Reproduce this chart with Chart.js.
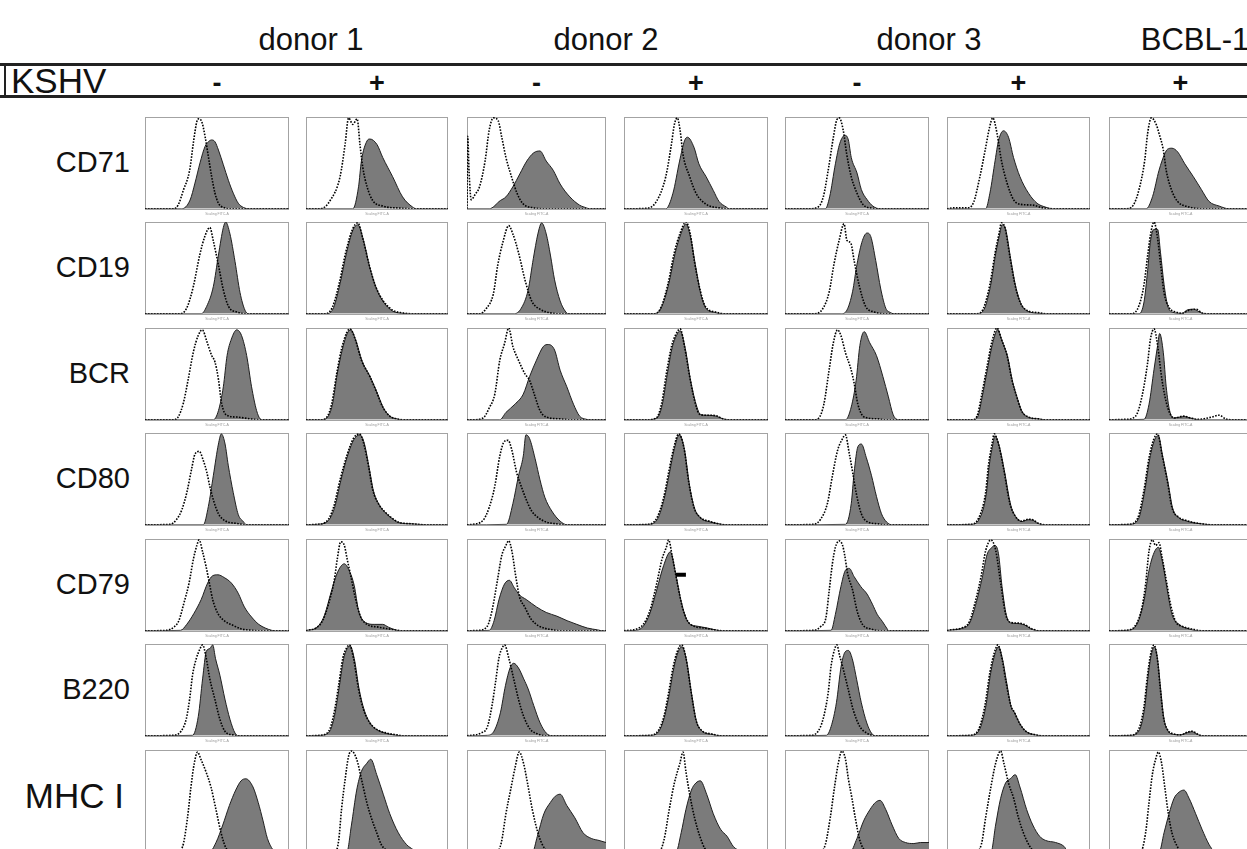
<!DOCTYPE html>
<html>
<head>
<meta charset="utf-8">
<title>KSHV surface markers</title>
<script src="https://cdn.jsdelivr.net/npm/chart.js"></script>
<style>
  html, body { margin: 0; padding: 0; background: #fff; }
  body { position: relative; width: 1247px; height: 849px; overflow: hidden; font-family: 'Liberation Sans', Arial, sans-serif; color: #111; }
  .lbl { position: absolute; white-space: nowrap; line-height: 1; }
  .donor { font-size: 31px; transform: translateX(-50%); }
  .sign { font-size: 27px; font-weight: bold; transform: translateX(-50%); }
  .marker { font-size: 29px; text-align: right; }
  .rule { position: absolute; background: #222; }
  canvas { position: absolute; }
</style>
</head>
<body>
<script>
// Column groups, infection status and markers
const columnLabels = ['donor 1', 'donor 2', 'donor 3', 'BCBL-1'];
const kshvStatus = ['-', '+', '-', '+', '-', '+', '+'];
const markerNames = ['CD71', 'CD19', 'BCR', 'CD80', 'CD79', 'B220', 'MHC I'];

// Histogram outlines, one list per column: [channel % of range, count % of panel max]
// Isotype control = dotted outline, stained = grey filled histogram
const cd71Isotype = [
  [[0,0],[20,0],[23,4],[26.6,20],[31,42],[33.6,72],[36,95],[37.3,98],[39.4,95],[41.7,79],[44,57],[46.3,35],[48.6,17],[51,6],[54.4,1.5],[59,0],[100,0]],
  [[0,0],[10,0],[17,9],[24,35],[27.6,71],[30,99],[33,92],[36,98],[38,70],[40,45],[43,24],[47,9],[54,3],[66,0.7],[75,0],[100,0]],
  [[0,0],[0.5,79],[1.5,40],[3,10],[6,16],[9,24],[13,52],[16,86],[19,99],[22.4,96],[25,78],[28,56],[32,35],[36,17],[40,6],[48,1],[57,0],[100,0]],
  [[0,0],[15.5,0.5],[22.5,8],[29,35],[33,71],[35,92],[37,99],[39,85],[41,59],[45.6,35],[50,17],[57,5],[66,1],[73,0],[100,0]],
  [[0,0],[17,0],[23,2],[26.6,13],[30,42],[33.6,78],[36,97],[37.7,99],[40.5,85],[42.8,60],[46,35],[50,17],[54,5],[61,0.5],[66,0],[100,0]],
  [[0,0],[4.6,1],[14,1],[18.6,7],[23,35],[26.7,64],[29.8,89],[32,99],[35,82],[38,53],[42,28],[46.5,10],[51,5],[60,4],[67,1],[77,0],[100,0]],
  [[0,0],[12,0],[17,4],[21,21],[25,53],[27,82],[29.6,99],[33,92],[35,82],[38,64],[40,42],[43.6,21],[48,8],[56,2],[66,0],[100,0]]
];
const cd71Stained = [
  [[0,0],[25.5,0],[31.3,9.5],[34.7,28],[38.2,50],[41.7,68],[44,73],[46.3,75],[48.6,73],[51,64],[54.4,48],[57.9,31],[61.3,17],[64.8,6],[68.3,1.5],[72,0],[100,0]],
  [[0,0],[33,0],[37,24],[39,52],[43,74],[45,76],[50,70],[54,56],[61,35],[68,13],[75,2],[78,0],[100,0]],
  [[0,0],[16,0],[24,9],[28,13],[33,24],[38,38],[43,52],[48,61],[52.5,63],[57,52],[62,42],[67,27],[74,13],[81,4],[86,1],[88,0],[100,0]],
  [[0,0],[29,0],[34,17],[38.6,52],[42,74],[44,78],[48.6,67],[52,49],[57,35],[62,20],[66,8],[71,2],[73,0],[100,0]],
  [[0,0],[28,0],[31,13],[35,49],[38,71],[41.7,80],[44,75],[46,56],[50,39],[53,21],[57,10],[61,3],[66,0],[100,0]],
  [[0,0],[27,0],[30,17],[33.7,53],[36,74],[39.5,85],[43,78],[46.5,56],[51,35],[57,17],[63,6],[68.6,2],[74,0],[100,0]],
  [[0,0],[26,0],[30.5,13.5],[35,42],[39,60],[41,65],[44,66],[48,62],[53,49],[59,35],[64.6,21],[70,8],[77,3],[84,0],[100,0]]
];

const cd19Isotype = [
  [[0,0],[24,0],[28.9,6],[33.6,30],[38,64],[41.7,85],[45,94],[47.5,79],[51,53],[54.4,26],[58,8],[63.7,2],[70.6,0],[100,0]],
  [[0,0],[14,0],[18.8,8],[23.5,34],[28,67],[33,93],[36.5,99],[40,82],[44.7,52],[49,30],[54,15],[61,4],[68,1],[75,0],[100,0]],
  [[0,0],[9,0],[14,6],[19,22],[22,52],[26,79],[30,96],[33,87],[37,67],[41.7,37],[46.5,14],[52.5,5],[60,1],[67,0],[100,0]],
  [[0,0],[21,0],[26,8],[30.6,33],[35,67],[39,88],[43,100],[46,87],[49,56],[53,25],[56.5,8],[63.5,2],[70.6,0],[100,0]],
  [[0,0],[20,0],[26,5],[30.7,24],[34,54],[37.6,80],[41,98],[43,80],[45.7,77],[48,58],[51.5,31],[56,8],[62,2],[69,0],[100,0]],
  [[0,0],[20.8,0],[25.5,6],[30,32],[33.6,66],[36.6,89],[38,99],[40.5,94],[44,62],[47.5,32],[51,13],[55.6,4],[65,1],[69,0],[100,0]],
  [[0,0],[16,0],[21,9],[24.5,32],[27,63],[29,86],[31.5,100],[34,82],[36,55],[38.5,23],[42,7],[46.6,2],[51,0.5],[56,4],[61,5],[65,1],[70,0],[100,0]]
];
const cd19Stained = [
  [[0,0],[39,0],[42.8,8],[47.5,30],[51,64],[54.4,94],[56,100],[59,87],[62.5,57],[66,23],[69.4,4],[71.8,0],[100,0]],
  [[0,0],[15,0],[19.5,7],[24,33],[28.5,66],[33,91],[36.5,97],[40.5,80],[45,50],[49.5,28],[54.5,13],[61,3],[68,0.5],[74,0],[100,0]],
  [[0,0],[34,0],[39,6],[44,26],[47.7,60],[51,87],[53.7,99],[57,87],[60,64],[63,37],[67,14],[70.6,3],[73,0],[100,0]],
  [[0,0],[21.5,0],[26,7],[31,32],[35.5,66],[39.5,87],[43,98],[46,85],[49.5,54],[53,24],[56.5,7],[63,1.5],[70,0],[100,0]],
  [[0,0],[38.8,0],[43,4],[46.9,24],[50,54],[53.8,80],[57,88],[59.6,84],[63,58],[66.5,27],[70,6],[73,1.5],[75.7,0],[100,0]],
  [[0,0],[21,0],[26,5],[30.5,31],[34,65],[37,88],[38.5,97],[41,92],[44.5,60],[48,30],[51.5,12],[56,3],[65,0.5],[69,0],[100,0]],
  [[0,0],[21,0],[24.5,13],[27,47],[29,79],[31.5,92],[34,92],[36,67],[38.5,32],[41,9],[44,2],[51,0.5],[54.5,4],[59,5],[64.6,1],[68,0],[100,0]]
];

const bcrIsotype = [
  [[0,0],[19.7,0],[23,3],[26.6,18],[30,44],[33.6,74],[37,92],[39.8,98],[43,85],[46.3,70],[48.6,63],[51,44],[53.2,18],[56.7,5],[63.7,3],[73,1],[80,0],[100,0]],
  [[0,0],[10,0],[14.7,3],[18,17],[21.7,51],[25,77],[28.7,95],[31,99],[34.6,88],[39,65],[45,47],[50,29],[54,14],[59,4],[64,1],[68,0],[100,0]],
  [[0,0],[4,0],[11.6,2],[16,13],[20,28],[23.6,65],[27,83],[30,100],[33,80],[37,65],[41.7,50],[45,43],[49,25],[52.5,10],[57,3],[67,1],[74,0],[100,0]],
  [[0,0],[15.5,0],[22.5,2],[26,17],[29.4,50],[33,80],[36,93],[39,99],[42,80],[45.6,47],[49,21],[52.5,6],[57,5],[64,4.5],[68.7,1],[73,0],[100,0]],
  [[0,0],[20,0],[23.5,2],[27,17],[30.6,54],[33.6,84],[36.5,98],[38.8,92],[42,73],[46,54],[48,40],[50.6,17],[55,3],[64.7,1],[69,0],[100,0]],
  [[0,0],[17.4,0],[21,4],[24,25],[28,58],[31.4,85],[35,100],[38,88],[42,70],[45.3,44],[48.8,25],[52,10],[57,3],[64,1],[68.6,0],[100,0]],
  [[0,0],[11.7,0.5],[18.6,4],[23,25],[27,62],[29,88],[31.5,99],[34,81],[37,44],[41,13.5],[45.5,2],[52.4,4],[57,2],[62,0.5],[72,3],[77,5],[81.6,1],[86,0],[100,0]]
];
const bcrStained = [
  [[0,0],[47.5,0],[51,10],[54.4,36],[57,70],[60,88],[63.7,98],[67,92],[70.6,70],[74,36],[77.5,10],[80,1],[82,0],[100,0]],
  [[0,0],[11,0],[15,2.5],[18.5,16],[22,50],[25.5,76],[29,94],[31.5,98],[35,87],[39.5,64],[45.5,46],[50.5,28],[54.5,13],[59.5,3.5],[64,1],[68,0],[100,0]],
  [[0,0],[23.6,0],[28,8],[34.5,17],[40.5,28],[45,47],[50,65],[55,80],[58.5,82],[63,76],[67,54],[71.8,36],[76.6,17],[81,4],[86,0.5],[88,0],[100,0]],
  [[0,0],[16,0],[23,2],[26.5,16],[30,49],[33.5,79],[36.5,92],[39,97],[42.5,78],[46,45],[49.5,20],[53,6],[57,5],[64,4],[68.7,1],[73,0],[100,0]],
  [[0,0],[42,0],[46,14],[49.4,43],[52,81],[55,96],[58.8,84],[63.5,70],[68,47],[71.8,25],[75,6],[77.6,0.5],[79,0],[100,0]],
  [[0,0],[18,0],[21.5,3.5],[24.5,24],[28.5,57],[32,84],[35.5,98],[38.5,86],[42.5,68],[45.8,42],[49.3,23],[52.5,9],[57.5,2.5],[64,1],[68.6,0],[100,0]],
  [[0,0],[24.5,0.5],[28,17],[31.5,55],[34,81],[35.4,94],[38,73],[40,36],[42.4,10],[45.5,2],[52.4,3.5],[58,1.5],[62.7,0],[100,0]]
];

const cd80Isotype = [
  [[0,0],[17.4,0.5],[22,6],[25.5,16],[29,35],[32.4,61],[34.7,77],[37.7,80],[40.5,70],[42.8,58],[45,42],[47.5,27],[51,12],[55.5,4.5],[63.7,1.5],[70.6,0],[100,0]],
  [[0,0],[7.7,0.5],[14.7,4],[19.4,19],[24,49],[28.7,75],[33.4,94],[37.6,99],[40.4,90],[44,64],[47,38],[51,23],[55.6,14],[60,8],[65,3],[75,1],[85,0],[100,0]],
  [[0,0],[4,0.5],[11.6,5],[16,19],[20,42],[23.6,75],[27,91],[29.6,92],[32,83],[35.7,57],[39,42],[43,26],[46.5,15],[51,8],[57,3],[64.6,1],[72,0],[100,0]],
  [[0,0],[17,0.5],[23,8],[27.6,30],[31,57],[34.6,84],[38,99],[41.6,84],[45,46],[48.6,19],[53,8],[59,4],[66,1],[70.8,0],[100,0]],
  [[0,0],[20,0.5],[24.7,6],[29.4,23],[33,54],[36.5,81],[40,94],[41.9,98],[44.7,77],[47,57],[49.4,35],[53,12],[57.6,3],[64.7,1],[69,0],[100,0]],
  [[0,0],[16.7,0.5],[22,7],[27,35],[29,65],[31.5,88],[33,99],[36,88],[39.5,62],[44,23],[47.5,10],[52,4],[56.6,6],[60,5.5],[63.5,2],[69,0],[100,0]],
  [[0,0],[14,0.5],[20,7],[24.5,38],[28,73],[31.5,94],[34,99],[37,77],[41,46],[44,19],[49,8],[53.6,5],[58,3],[65,1],[72,0],[100,0]]
];
const cd80Stained = [
  [[0,0],[40.5,0],[44,20],[47.5,54],[51,88],[53,99],[55.6,88],[57.8,65],[61.3,35],[64.8,11],[68,4],[70.6,0],[100,0]],
  [[0,0],[8,0.5],[15,3.5],[20,18],[24.5,48],[29,74],[33.8,93],[38,98],[41,89],[44.5,62],[47.5,37],[51.5,22],[56,13],[60.5,7],[65,2.5],[75,1],[85,0],[100,0]],
  [[0,0],[28.4,0.5],[33,23],[37,53],[40.5,75],[42.4,98],[45,94],[49,72],[52.5,49],[56,30],[61,15],[67,4],[72,0],[100,0]],
  [[0,0],[17.5,0.5],[23.5,7],[28,29],[31.5,56],[35,83],[38.4,98],[42,82],[45.4,44],[49,18],[53.5,7],[59,3.5],[66,1],[70.8,0],[100,0]],
  [[0,0],[42,0.5],[46,23],[48,57],[50.6,85],[53,88],[56.5,73],[60,54],[63.5,31],[67,12],[70.6,3],[74,0],[100,0]],
  [[0,0],[17,0.5],[22.5,6],[27.5,34],[29.5,64],[32,87],[33.5,97],[36.5,86],[40,60],[44.5,22],[48,9],[52.5,3.5],[56.6,5.5],[60,5],[63.5,1.5],[69,0],[100,0]],
  [[0,0],[14.5,0.5],[20.5,6],[25,37],[28.5,72],[32,93],[34.5,97],[37.5,75],[41.5,44],[44.5,18],[49.5,7],[53.6,4.5],[58,2.5],[65,1],[72,0],[100,0]]
];

const cd79Isotype = [
  [[0,0],[15,0.5],[20,4],[23.5,11],[27,30],[30.6,52],[33.6,78],[36,93],[37.6,99],[40,86],[42.4,70],[44.7,52],[47,34],[50.6,19],[55,11],[61,6],[67,2],[74,0.5],[79,0],[100,0]],
  [[0,0],[1,0.5],[7,3],[11.7,11],[16,30],[20,56],[22,78],[24.5,97],[27,93],[29,78],[31.5,60],[35,34],[38.5,15],[43,7],[51,4],[60.7,1.5],[68,0],[100,0]],
  [[0,0],[8.5,0.5],[14.6,5],[18,22],[22,56],[25,82],[28,93],[30,98],[32.4,86],[35,60],[37.8,37],[41.5,26],[46,13],[52,5],[60,1.5],[67,0],[100,0]],
  [[0,0],[8.7,2],[13.4,7],[18,22],[22.8,52],[26.4,78],[29.4,91],[31,99],[33.4,82],[37,52],[40.5,26],[44,11],[48.7,5],[55.8,3],[62.8,1],[68.7,0],[100,0]],
  [[0,0],[20,0.5],[25,5],[28.4,14],[30.7,44],[33,74],[35,91],[37.6,98],[40,93],[41.5,82],[43.4,63],[47,44],[50,22],[53.8,7],[59.6,2],[66.5,0],[100,0]],
  [[0,0],[0.7,0.5],[10,3],[15.7,10],[20,33],[23.8,59],[27,87],[30.7,99],[34,88],[37.6,51],[41,18],[44.6,9],[49,8.5],[54,7],[59.6,2],[65,0],[100,0]],
  [[0,0],[11.7,0.5],[18.6,6],[23,25],[25.6,51],[28,87],[30.3,99],[32.6,93],[35,96],[37,81],[39.6,59],[43,29],[46.6,10],[51,5],[58,2],[65,0],[100,0]]
];
const cd79Stained = [
  [[0,0],[24.7,0.5],[29,7],[34,19],[39,34],[43.5,52],[47,60],[50.6,61],[55,58],[60,52],[64.7,41],[69,26],[74,15],[79,7],[83.5,3],[88,0.5],[90.6,0],[100,0]],
  [[0,0],[1,0.5],[7,3],[12.8,16],[17.5,41],[22,63],[27,73],[30,67],[34,49],[37,22],[42,9],[48,7],[54,7],[58,4],[64,0.5],[68,0],[100,0]],
  [[0,0],[16,0.5],[19.5,11],[23,34],[27,51],[30.5,55],[34,47],[37.8,39],[42.7,34],[50,26],[57,20],[64.6,16],[72,11],[79,7],[86.6,3],[94,1],[97.5,0],[100,0]],
  [[0,0],[8.7,0.5],[13.4,5],[18,19],[22.8,45],[27.5,71],[32.2,86],[35.8,63],[39,37],[42.8,15],[46,7],[51,5],[58,3],[65,0.5],[68.7,0],[100,0]],
  [[0,0],[32,0.5],[35,18],[38.8,48],[42,66],[44.6,68],[48,59],[52.7,48],[57,40],[60.7,29],[64,18],[67.7,10],[71,2],[72,0],[100,0]],
  [[0,0],[1,0.5],[10,2.5],[16,9],[20.5,31],[24.5,57],[28,83],[31.5,91],[33.5,93],[36,84],[38.5,48],[41.5,17],[45,8.5],[49,8],[54,6.5],[59.6,1.5],[65,0],[100,0]],
  [[0,0],[12.8,0.5],[19.8,8],[24.5,33],[28,66],[31.5,85],[34.5,91],[37,78],[40.8,44],[44,18],[49,7],[56,2],[63,0],[100,0]]
];
// gate marker left on the donor 2 KSHV+ CD79 plot
const cd79Gate = [[36, 61], [43, 61]];

const b220Isotype = [
  [[0,0],[19,0.5],[25,5],[28.6,18],[31,40],[33,66],[35.6,84],[38,94],[40,99],[42.6,84],[45,62],[48.5,40],[52,18],[55.5,5],[61,1],[66,0],[100,0]],
  [[0,0],[10,0.5],[16,5],[19.4,22],[23,55],[26,85],[28.7,96],[30.6,99],[33.4,85],[37,51],[40.4,29],[45,14],[49.8,7],[56.8,3],[64,1],[68.5,0],[100,0]],
  [[0,0],[3,0.5],[10,3],[14.7,10],[18,33],[20.6,59],[23,85],[25.4,96],[27,99],[30,85],[33.6,62],[37,40],[40.8,21],[45.5,7],[51,2],[57,0],[100,0]],
  [[0,0],[18,0.5],[24,6],[27.7,21],[31,47],[34,74],[37,92],[40,99],[43,85],[46.7,47],[50,17],[53.8,6],[61,2],[68,0],[100,0]],
  [[0,0],[18,0.5],[23,5],[26.4,18],[30,47],[32,76],[34.6,95],[36,99],[38,87],[40.4,73],[44,50],[47.4,28],[52,10],[56.8,3],[62.6,0],[100,0]],
  [[0,0],[16,0.5],[22,6.5],[26.4,32],[30,69],[33,90],[35.6,99],[38.6,83],[41,61],[44.8,32],[47,26],[50.6,14],[55,5],[62,1],[66.7,0],[100,0]],
  [[0,0],[15,0.5],[21,8],[24.5,32],[26.8,64],[29,88],[31.5,99],[33.8,84],[35.7,54],[38,21],[40.8,7],[45.5,2],[50,1],[54.8,4],[58,5],[61.8,2],[65,0],[100,0]]
];
const b220Stained = [
  [[0,0],[33,0.5],[37,21],[40,62],[42.6,92],[45,95],[47,99],[49,84],[52,66],[55.5,40],[59,18],[62.5,3],[65,0],[100,0]],
  [[0,0],[10.5,0.5],[16.5,4.5],[20,21],[23.5,54],[26.5,84],[29,95],[31,98],[34,84],[37.5,50],[41,28],[45.5,13],[50,6.5],[57,2.5],[64,0.5],[68.5,0],[100,0]],
  [[0,0],[14.7,0.5],[19.4,5],[24,25],[27.7,55],[31,74],[33.6,79],[37,74],[40.8,62],[44,51],[48,33],[52.6,14],[57,3],[61,0],[100,0]],
  [[0,0],[18.5,0.5],[24.5,5.5],[28,20],[31.5,46],[34.5,73],[37.5,91],[40.3,97],[43.3,83],[47,45],[50.3,16],[54,5.5],[61,1.5],[68,0],[100,0]],
  [[0,0],[28.7,0.5],[32,10],[35.7,36],[39,76],[41.6,91],[44,93],[46.7,84],[49.8,61],[53,36],[56.8,14],[60,3],[62.6,0],[100,0]],
  [[0,0],[16.5,0.5],[22.5,6],[27,31],[30.5,68],[33.5,89],[36,97],[39,82],[41.5,60],[45,31],[47.3,25],[51,13],[55.5,4.5],[62,1],[66.7,0],[100,0]],
  [[0,0],[15.5,0.5],[21.5,7],[25,31],[27.2,63],[29.4,87],[31.8,97],[34,83],[36,53],[38.3,20],[41,6],[45.5,1.5],[50,1],[54.8,3.5],[58,4.5],[61.8,1.5],[65,0],[100,0]]
];

const mhcIsotype = [
  [[0,0],[21.6,0.5],[26,5.6],[29.5,34],[31.9,64],[34.2,87],[36.5,98],[38.8,91],[42.3,79],[45.8,64],[49.3,42],[52.8,19.5],[56.3,4.5],[62,0],[100,0]],
  [[0,0],[20.6,0.5],[23,12],[25,42],[27.6,72],[30,94],[32,99],[35.7,91],[39,72],[42.8,49],[46,34],[49.8,19.5],[53,8],[58,1.5],[61,0],[100,0]],
  [[0,0],[21,0.5],[24.7,10],[28,38],[31.8,64],[34.6,83],[37.6,98],[40.7,87],[43.5,68],[47,42],[51.8,16],[56.5,3],[60,0],[100,0]],
  [[0,0],[24,0.5],[27.7,12],[31.4,42],[35,68],[38.8,87],[41,98],[43,79],[45.6,57],[49,34],[52.7,16],[56,4.5],[59.8,0],[100,0]],
  [[0,0],[24.4,0.5],[28,8],[31.4,34],[34.4,64],[37,87],[39.5,99],[42,91],[44,72],[46.5,53],[48.8,34],[52,12],[55.8,1.5],[58,0],[100,0]],
  [[0,0],[19.3,0.5],[24,8],[27,34],[30.7,64],[34,87],[37.5,99],[39.8,87],[43,68],[46.6,53],[50,34],[53.4,19.5],[58,6],[62.5,0],[100,0]],
  [[0,0],[22,0.5],[25.6,19.5],[28,49],[30.3,76],[32.6,91],[34.5,98],[36.8,87],[39,64],[41.5,38],[44,19.5],[47.8,6],[51,0],[100,0]]
];
const mhcStained = [
  [[0,0],[44.6,0.5],[49.3,10],[54,27],[58.6,46],[63,61],[66.7,70],[70,72],[75,64],[78.6,49],[82,31],[85,14],[88.8,3],[91,0],[100,0]],
  [[0,0],[28.7,0.5],[32,27],[35.7,61],[39,79],[42.8,87],[45.6,91],[49.8,76],[54.4,57],[59,38],[65,19.5],[70.8,8],[75.5,3],[78,0],[100,0]],
  [[0,0],[47,0.5],[50.6,16],[55.3,38],[60,49],[63.5,55],[67,57],[71.8,46],[77.6,34],[83.5,19.5],[89.4,14],[95,12],[100,10]],
  [[0,0],[36,0.5],[39.7,19.5],[43,42],[46.8,61],[50,68],[53,70],[57.4,57],[62,38],[67,23],[71.6,16],[76,6],[81,1.5],[83,0],[100,0]],
  [[0,0],[45,0.5],[50,14],[54.6,31],[59,42],[62.8,49],[66,51],[70,42],[74.4,27],[79,14],[83.7,10],[89.5,9],[94,10],[100,10]],
  [[0,0],[30.7,0.5],[34,27],[37.5,53],[41,68],[44.3,72],[47.7,76],[51,64],[55.7,42],[60,27],[64.8,16],[69,12],[76,10],[82,6],[85,0],[100,0]],
  [[0,0],[35,0.5],[38.5,19.5],[42,38],[45.5,53],[49,59],[52.4,61],[56,53],[60.6,38],[65,23],[70,8],[73.4,1.5],[76,0],[100,0]]
];

const isotypeRows = [cd71Isotype, cd19Isotype, bcrIsotype, cd80Isotype, cd79Isotype, b220Isotype, mhcIsotype];
const stainedRows = [cd71Stained, cd19Stained, bcrStained, cd80Stained, cd79Stained, b220Stained, mhcStained];

// panel grid geometry (px); bottom row runs past the page edge
const colLeft = [145, 306, 467, 624, 785, 947, 1109];
const colWidth = [144, 142, 139, 144, 144, 143, 143];
const rowTop = [117, 222, 328, 433, 539, 644, 750];
const rowHeight = [91, 91, 91, 91, 91, 91, 102];
const donorCenter = [311, 606, 929, 1195];

function addText(cls, text, left, top) {
  const d = document.createElement('div');
  d.className = 'lbl ' + cls;
  d.textContent = text;
  d.style.left = left + 'px';
  d.style.top = top + 'px';
  document.body.appendChild(d);
  return d;
}

function addRule(left, top, width, height) {
  const r = document.createElement('div');
  r.className = 'rule';
  Object.assign(r.style, { left: left + 'px', top: top + 'px', width: width + 'px', height: height + 'px' });
  document.body.appendChild(r);
}

// header: donors, KSHV strip
columnLabels.forEach((t, i) => addText('donor', t, donorCenter[i], 24));
addRule(0, 63, 1247, 3);
addRule(0, 95, 1247, 3);
addRule(4, 63, 2, 35);
const kshv = addText('', 'KSHV', 11, 63);
kshv.style.fontSize = '35px';
kshvStatus.forEach((s, c) => addText('sign', s, colLeft[c] + colWidth[c] / 2, 70));

// light frame around each plot area
const panelFrame = {
  id: 'panelFrame',
  beforeDatasetsDraw(chart) {
    const { ctx, chartArea: a } = chart;
    ctx.save();
    ctx.strokeStyle = '#a3a3a3';
    ctx.lineWidth = 1;
    ctx.strokeRect(Math.round(a.left) + 0.5, Math.round(a.top) + 0.5, Math.round(a.width) - 1, Math.round(a.height));
    ctx.restore();
  }
};

function drawPanel(left, top, width, height, isotype, stained, gate) {
  const canvas = document.createElement('canvas');
  canvas.width = width + 2;
  canvas.height = height + 11;
  canvas.style.left = (left - 1) + 'px';
  canvas.style.top = (top - 1) + 'px';
  document.body.appendChild(canvas);

  const datasets = [
    {
      data: isotype,
      borderColor: '#000',
      borderWidth: 1.6,
      borderDash: [1.6, 1.4],
      fill: false,
      pointRadius: 0,
      cubicInterpolationMode: 'monotone'
    },
    {
      data: stained,
      borderColor: '#202020',
      borderWidth: 1,
      backgroundColor: '#7b7b7b',
      fill: 'origin',
      pointRadius: 0,
      cubicInterpolationMode: 'monotone'
    }
  ];
  if (gate) {
    datasets.unshift({ data: gate, borderColor: '#000', borderWidth: 4, pointRadius: 0, fill: false });
  }

  new Chart(canvas, {
    type: 'line',
    data: { datasets },
    options: {
      responsive: false,
      animation: false,
      events: [],
      layout: { padding: { top: 1, left: 1, right: 1, bottom: 0 } },
      plugins: { legend: { display: false }, tooltip: { enabled: false } },
      scales: {
        x: {
          type: 'linear',
          min: 0,
          max: 100,
          grid: { display: false, drawTicks: false },
          border: { display: false },
          ticks: { display: false },
          title: { display: true, text: 'Scaling FITC-A', color: '#9a9a9a', font: { size: 3.5 }, padding: { top: 3, bottom: 2 } }
        },
        y: { display: false, min: 0, max: 100 }
      }
    },
    plugins: [panelFrame]
  });
}

markerNames.forEach((name, r) => {
  const lab = addText('marker', name, 0, rowTop[r] + 46 - 15);
  lab.style.width = '130px';
  if (name === 'MHC I') {
    // this label is set larger than the others
    lab.style.fontSize = '35px';
    lab.style.top = (rowTop[r] + 46 - 18) + 'px';
    lab.style.width = '124px';
  }
  for (let c = 0; c < 7; c++) {
    const gate = (r === 4 && c === 3) ? cd79Gate : null;
    drawPanel(colLeft[c], rowTop[r], colWidth[c], rowHeight[r], isotypeRows[r][c], stainedRows[r][c], gate);
  }
});
</script>
</body>
</html>
